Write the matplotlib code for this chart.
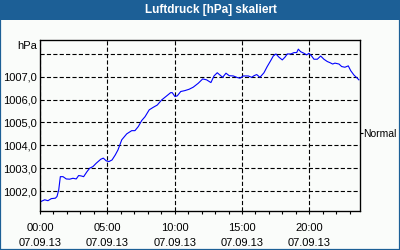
import matplotlib
matplotlib.use("Agg")
import matplotlib.pyplot as plt
import matplotlib.transforms as mtransforms
from matplotlib.patches import Rectangle

# hours since 00:00 on 07.09.13 and pressure in hPa
hours = [0.05, 0.35, 0.59, 0.84, 1.14, 1.26, 1.39, 1.51, 1.71, 1.95, 2.20, 2.45, 2.69,
         2.87, 3.07, 3.24, 3.49, 3.69, 3.93, 4.18, 4.51, 4.70, 4.92, 5.12, 5.35, 5.59,
         5.79, 6.07, 6.44, 6.81, 7.05, 7.30, 7.55, 7.80, 8.11, 8.41, 8.71, 9.03, 9.41,
         9.70, 9.82, 10.02, 10.19, 10.45, 10.76, 11.08, 11.38, 11.75, 12.08, 12.37,
         12.69, 12.92, 13.16, 13.36, 13.56, 13.81, 14.05, 14.35, 14.65, 14.85, 15.09,
         15.46, 15.72, 15.89, 16.09, 16.33, 16.63, 16.87, 17.13, 17.32, 17.52, 17.74,
         17.99, 18.19, 18.36, 18.63, 18.86, 19.06, 19.18, 19.35, 19.60, 19.80, 19.97,
         20.17, 20.34, 20.59, 20.84, 21.08, 21.33, 21.53, 21.73, 21.90, 22.20, 22.40,
         22.64, 22.89, 23.07, 23.31, 23.56, 23.68]
pressure = [1001.54, 1001.62, 1001.58, 1001.67, 1001.69, 1001.76, 1002.05, 1002.63,
            1002.63, 1002.53, 1002.52, 1002.56, 1002.53, 1002.68, 1002.66, 1002.63,
            1002.85, 1003.00, 1003.07, 1003.22, 1003.39, 1003.44, 1003.32, 1003.29,
            1003.36, 1003.58, 1003.80, 1004.24, 1004.50, 1004.64, 1004.64, 1004.82,
            1005.08, 1005.25, 1005.55, 1005.66, 1005.76, 1005.98, 1006.16, 1006.30,
            1006.30, 1006.13, 1006.16, 1006.35, 1006.39, 1006.45, 1006.54, 1006.71,
            1006.90, 1006.86, 1006.74, 1007.03, 1007.17, 1007.07, 1006.97, 1007.15,
            1007.04, 1007.03, 1006.96, 1006.93, 1007.03, 1007.03, 1006.97, 1007.04,
            1007.09, 1006.97, 1007.17, 1007.44, 1007.70, 1007.90, 1007.99, 1007.85,
            1007.73, 1007.85, 1007.99, 1007.99, 1008.05, 1008.05, 1008.20, 1008.09,
            1008.02, 1007.95, 1008.02, 1007.90, 1007.76, 1007.76, 1007.90, 1007.76,
            1007.66, 1007.61, 1007.55, 1007.59, 1007.55, 1007.44, 1007.41, 1007.47,
            1007.26, 1007.07, 1006.93, 1006.86]

x_ticks = [0, 5, 10, 15, 20]
x_labels = ["00:00\n07.09.13", "05:00\n07.09.13", "10:00\n07.09.13",
            "15:00\n07.09.13", "20:00\n07.09.13"]
y_ticks = [1002, 1003, 1004, 1005, 1006, 1007, 1008]
y_labels = ["1002,0", "1003,0", "1004,0", "1005,0", "1006,0", "1007,0", ""]
normal_level = 1004.54

TITLE = "Luftdruck [hPa] skaliert"
BLUE = "#1c5f96"
FS = 8

plt.rcParams["font.family"] = ["Liberation Sans", "DejaVu Sans"]
plt.rcParams["lines.scale_dashes"] = False

fig = plt.figure(figsize=(4, 2.5), dpi=100, facecolor="#fafcfa")
ax = fig.add_axes([0.1, 0.156, 0.8, 0.684])
ax.set_facecolor("#fafcfa")

ax.plot(hours, pressure, color="#0000ff", lw=0.8)

ax.set_xlim(0, 23.76)
ax.set_ylim(1001.13, 1008.6)

ax.set_xticks(x_ticks)
ax.set_xticklabels(x_labels, fontsize=FS, linespacing=1.6)
ax.set_xticks(range(0, 24), minor=True)
ax.tick_params(axis="x", which="both", direction="out", length=2.5, width=0.8, pad=6)
ax.set_yticks(y_ticks)
ax.set_yticklabels(y_labels, fontsize=FS)
ax.tick_params(axis="y", length=0, pad=2.5)

ax.grid(True, color="black", lw=0.8, linestyle=(0, (3, 1.6)))
for s in ax.spines.values():
    s.set_linewidth(0.9)

trans = mtransforms.blended_transform_factory(ax.transAxes, ax.transData)
ax.text(-0.008, 1008.34, "hPa", transform=trans, ha="right", va="center", fontsize=FS)

right = ax.twinx()
right.set_ylim(ax.get_ylim())
right.set_yticks([normal_level])
right.set_yticklabels(["Normal"], fontsize=7.5)
right.tick_params(axis="y", length=2, width=0.8, pad=0.6)

# title bar and frame
fig.patches.append(Rectangle((0, 0.92), 1, 0.08, transform=fig.transFigure,
                             facecolor=BLUE, edgecolor="none", zorder=0))
fig.patches.append(Rectangle((0, 0), 1, 1, transform=fig.transFigure,
                             fill=False, edgecolor=BLUE, lw=1.6, zorder=1))
fig.text(0.5275, 0.958, TITLE, color="white", fontsize=8.5, fontweight="bold",
         ha="center", va="center")

fig.savefig("out.png", dpi=100, facecolor=fig.get_facecolor())
